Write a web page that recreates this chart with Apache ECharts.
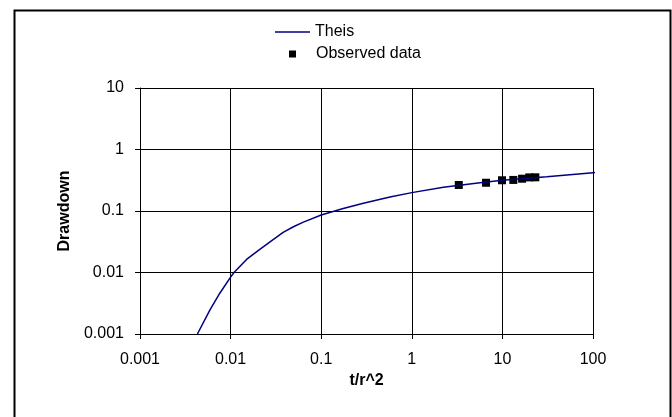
<!DOCTYPE html>
<html>
<head>
<meta charset="utf-8">
<script src="https://cdn.jsdelivr.net/npm/echarts@6/dist/echarts.min.js"></script>
<style>
html,body{margin:0;padding:0;background:#fff;}
#chart{width:672px;height:417px;}
</style>
</head>
<body>
<div id="chart"></div>
<script>
// Theis type curve (t/r^2, drawdown)
var theisT = [0.0043, 0.0059, 0.0076, 0.01, 0.0109, 0.015, 0.021, 0.027, 0.038, 0.05, 0.0636, 0.1, 0.175, 0.292, 0.574, 1, 2.23, 5.66, 10, 30.8, 100, 114];
var theisS = [0.001, 0.00245, 0.0046, 0.0084, 0.01, 0.0163, 0.0238, 0.0313, 0.0448, 0.056, 0.066, 0.086, 0.11, 0.134, 0.169, 0.199, 0.243, 0.288, 0.317, 0.361, 0.42, 0.425];
// Observed data
var obsT = [3.3, 6.6, 9.9, 13.2, 16.5, 19.8, 23.1];
var obsS = [0.265, 0.288, 0.316, 0.32, 0.335, 0.352, 0.353];
// Tick labels
var xTickLabels = ['0.001', '0.01', '0.1', '1', '10', '100'];
var yTickLabels = ['0.001', '0.01', '0.1', '1', '10'];

var FONT = 'Liberation Sans';
function pairs(a, b) { return a.map(function (v, i) { return [v, b[i]]; }); }
function labelFrom(list, base) {
  return function (v) {
    var idx = Math.round(Math.log10(v)) - base;
    return list[idx] !== undefined ? list[idx] : '';
  };
}

var chart = echarts.init(document.getElementById('chart'), null, {renderer: 'canvas'});
chart.setOption({
  backgroundColor: '#ffffff',
  animation: false,
  graphic: [{
    type: 'rect', left: 12, top: 8, silent: true,
    shape: {x: 0, y: 0, width: 656, height: 430},
    style: {fill: 'none', stroke: '#000', lineWidth: 2}
  }],
  legend: [{
    data: [{name: 'Theis', icon: 'rect'}],
    left: 270, top: 19,
    itemWidth: 35, itemHeight: 1.5,
    textStyle: {fontFamily: FONT, fontSize: 16, color: '#000'}
  }, {
    data: [{name: 'Observed data', icon: 'rect'}],
    left: 284, top: 41,
    itemWidth: 7, itemHeight: 7,
    textStyle: {fontFamily: FONT, fontSize: 16, color: '#000', padding: [0, 0, 0, 15]}
  }],
  grid: {left: 140, right: 79, top: 88, bottom: 83, containLabel: false, outerBoundsMode: 'none'},
  xAxis: {
    type: 'log', logBase: 10, min: 0.001, max: 100,
    name: 't/r^2', nameLocation: 'middle', nameGap: 38,
    nameTextStyle: {fontFamily: FONT, fontSize: 16, fontWeight: 'bold', color: '#000'},
    axisLine: {show: true, lineStyle: {color: '#000', width: 1}},
    axisTick: {show: true, length: 5, lineStyle: {color: '#000'}},
    minorTick: {show: false},
    splitLine: {show: true, lineStyle: {color: '#000', width: 1}},
    axisLabel: {show: true, margin: 18, showMinLabel: true, showMaxLabel: true,
      fontFamily: FONT, fontSize: 16, color: '#000', formatter: labelFrom(xTickLabels, -3)}
  },
  yAxis: {
    type: 'log', logBase: 10, min: 0.001, max: 10,
    name: 'Drawdown', nameLocation: 'middle', nameGap: 64, nameRotate: 90,
    nameTextStyle: {fontFamily: FONT, fontSize: 16, fontWeight: 'bold', color: '#000'},
    axisLine: {show: true, lineStyle: {color: '#000', width: 1}},
    axisTick: {show: true, length: 5, lineStyle: {color: '#000'}},
    minorTick: {show: false},
    splitLine: {show: true, lineStyle: {color: '#000', width: 1}},
    axisLabel: {show: true, margin: 16, showMinLabel: true, showMaxLabel: true,
      fontFamily: FONT, fontSize: 16, color: '#000', formatter: labelFrom(yTickLabels, -3)}
  },
  series: [{
    name: 'Theis', type: 'line', data: pairs(theisT, theisS),
    symbol: 'none', smooth: false, clip: false,
    lineStyle: {color: '#000080', width: 1.5},
    itemStyle: {color: '#000080'}
  }, {
    name: 'Observed data', type: 'scatter', data: pairs(obsT, obsS),
    symbol: 'rect', symbolSize: 8,
    itemStyle: {color: '#000', opacity: 1}
  }]
});
</script>
</body>
</html>
